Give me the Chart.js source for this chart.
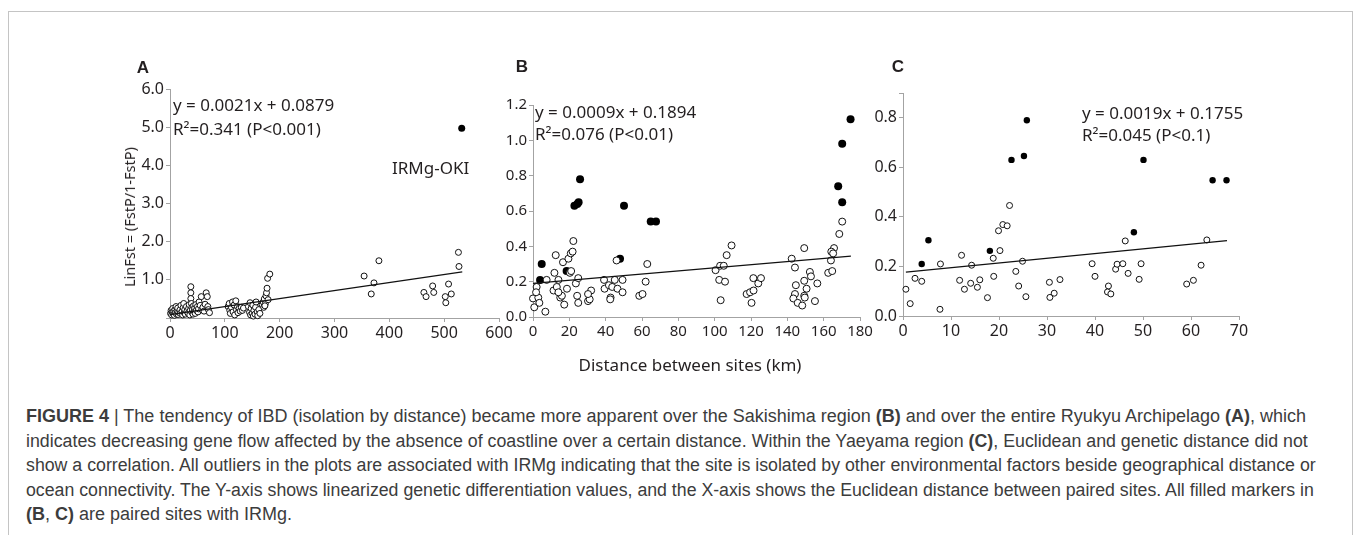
<!DOCTYPE html>
<html>
<head>
<meta charset="utf-8">
<script src="https://cdn.jsdelivr.net/npm/chart.js@4.4.1/dist/chart.umd.min.js"></script>
<style>
  body { margin: 0; background: #fff; width: 1355px; height: 535px; position: relative; overflow: hidden; font-family: "Noto Sans", sans-serif; color: #231f20; }
  .frame { position: absolute; left: 8px; top: 11px; width: 1343px; height: 540px; border: 1px solid #c4c4c4; border-bottom: none; }
  .box { position: absolute; top: 40px; }
  .txt { position: absolute; white-space: nowrap; font-size: 17px; line-height: 20px; }
  .panel { position: absolute; font-family: "Liberation Sans", Arial, sans-serif; font-weight: bold; font-size: 17px; transform: translate(-50%, -50%); }
  .ytitle { position: absolute; left: 129px; top: 217px; font-size: 14.5px; white-space: nowrap; transform: translate(-50%, -50%) rotate(-90deg); }
  .xtitle { position: absolute; left: 690px; top: 364px; font-size: 17px; white-space: nowrap; transform: translate(-50%, -50%); }
  .cap { position: absolute; left: 26px; white-space: nowrap; font-family: "Liberation Sans", Arial, sans-serif; font-size: 18px; line-height: 24px; color: #3c3c3c; transform-origin: 0 0; }
</style>
</head>
<body>
<div class="frame"></div>

<div class="box" style="left:100px"><canvas id="chartA" width="420" height="305"></canvas></div>
<div class="box" style="left:480px"><canvas id="chartB" width="400" height="305"></canvas></div>
<div class="box" style="left:850px"><canvas id="chartC" width="420" height="305"></canvas></div>

<div class="panel" style="left:143px;top:68px">A</div>
<div class="panel" style="left:522px;top:67px">B</div>
<div class="panel" style="left:898px;top:67px">C</div>

<div class="ytitle">LinFst = (FstP/1-FstP)</div>
<div class="xtitle">Distance between sites (km)</div>

<div class="txt" style="left:173px;top:95px">y = 0.0021x + 0.0879</div>
<div class="txt" style="left:173px;top:119px">R²=0.341 (P&lt;0.001)</div>
<div class="txt" style="left:392px;top:158px">IRMg-OKI</div>

<div class="txt" style="left:535px;top:102px">y = 0.0009x + 0.1894</div>
<div class="txt" style="left:535px;top:124px">R²=0.076 (P&lt;0.01)</div>

<div class="txt" style="left:1082px;top:103px">y = 0.0019x + 0.1755</div>
<div class="txt" style="left:1082px;top:125px">R²=0.045 (P&lt;0.1)</div>

<div class="cap" data-end="1306" style="top:404px"><b>FIGURE 4</b> | The tendency of IBD (isolation by distance) became more apparent over the Sakishima region <b>(B)</b> and over the entire Ryukyu Archipelago <b>(A)</b>, which</div>
<div class="cap" data-end="1308" style="top:429px">indicates decreasing gene flow affected by the absence of coastline over a certain distance. Within the Yaeyama region <b>(C)</b>, Euclidean and genetic distance did not</div>
<div class="cap" data-end="1316" style="top:453px">show a correlation. All outliers in the plots are associated with IRMg indicating that the site is isolated by other environmental factors beside geographical distance or</div>
<div class="cap" data-end="1314" style="top:478px">ocean connectivity. The Y-axis shows linearized genetic differentiation values, and the X-axis shows the Euclidean distance between paired sites. All filled markers in</div>
<div class="cap" style="top:502px"><b>(B</b>, <b>C)</b> are paired sites with IRMg.</div>

<script>
// A: entire Ryukyu Archipelago
let aOpenX = [1,2,3,4,5,6,7,8,9,10,11,12,13,14,15,16,18,19,20,22,23,24,25,26,27,28,30,31,33,34,35,36,37,38,38,38,39,40,40,41,42,43,44,45,46,47,48,50,51,52,53,55,57,58,60,62,64,66,68,69,70,72,
  106,108,109,110,112,114,115,117,118,120,121,123,124,126,128,130,132,134,
  143,145,146,147,148,150,151,152,153,155,156,157,159,160,162,164,
  168,170,171,172,174,175,176,177,178,182,179,173,
  354,381,372,367,463,467,479,481,508,502,503,513,526,527];
let aOpenY = [0.12,0.2,0.08,0.16,0.25,0.11,0.18,0.07,0.22,0.14,0.3,0.1,0.19,0.26,0.09,0.15,0.21,0.12,0.33,0.17,0.08,0.27,0.38,0.14,0.22,0.1,0.3,0.18,0.12,0.25,0.35,0.08,0.2,0.82,0.66,0.51,0.38,0.28,0.15,0.22,0.1,0.32,0.18,0.26,0.12,0.35,0.2,0.3,0.16,0.24,0.42,0.33,0.56,0.22,0.28,0.18,0.36,0.66,0.56,0.3,0.22,0.14,
  0.3,0.38,0.2,0.12,0.28,0.42,0.16,0.34,0.08,0.45,0.22,0.3,0.14,0.25,0.18,0.28,0.2,0.26,
  0.3,0.15,0.4,0.08,0.25,0.12,0.34,0.05,0.2,0.1,0.28,0.42,0.16,0.06,0.22,0.12,
  0.35,0.42,0.28,0.5,0.38,0.58,0.66,0.78,1.04,1.15,0.48,0.32,
  1.1,1.5,0.92,0.63,0.67,0.56,0.84,0.67,0.89,0.56,0.4,0.63,1.72,1.35];
let aFillX = [532];
let aFillY = [4.97];
let aFitX = [0, 533];
let aFitY = [0.09, 1.21];

// B: Sakishima region
let bOpenX = [0,0.7,2,2.9,3.5,1.7,7.5,6.8,12.5,11.8,11.3,13.1,14,15,15.9,14,16.5,17.2,18.7,19.5,20.8,21.8,22.2,23.6,24.9,24.3,24.9,20.3,21,30.3,31.2,32,30.3,39.1,39.4,41.8,42.7,42.5,45,46,43.6,46.5,49.3,49.3,58.5,60.3,62.9,62,
  100.5,103,105,106.6,109.3,102.5,105.7,103.3,117.6,119.5,121.4,120.3,121.3,124,125.5,142.4,144.2,149.3,144.7,144.2,143.3,145.7,148.2,149.3,149.3,150.6,149.6,152.4,153,155.2,156.5,
  170.2,168.6,165.7,164.2,165.2,164,162.5,164.7];
let bOpenY = [0.105,0.055,0.17,0.11,0.08,0.14,0.21,0.03,0.35,0.25,0.15,0.17,0.21,0.11,0.12,0.14,0.31,0.07,0.16,0.33,0.36,0.37,0.43,0.19,0.22,0.12,0.08,0.25,0.26,0.09,0.1,0.15,0.13,0.21,0.16,0.18,0.11,0.1,0.21,0.32,0.17,0.16,0.21,0.14,0.12,0.13,0.3,0.2,
  0.265,0.29,0.29,0.35,0.405,0.21,0.2,0.095,0.13,0.14,0.15,0.08,0.22,0.19,0.22,0.33,0.28,0.39,0.18,0.13,0.105,0.08,0.065,0.12,0.205,0.16,0.11,0.255,0.23,0.09,0.19,
  0.54,0.47,0.39,0.37,0.36,0.32,0.25,0.26];
let bFillX = [4.8,3.9,18.5,22.8,24.4,25.1,25.9,47.9,50.1,64.8,67.7,174.8,170.2,168,170.2];
let bFillY = [0.3,0.21,0.26,0.63,0.64,0.65,0.78,0.33,0.63,0.54,0.54,1.12,0.98,0.74,0.65];
let bFitX = [0, 175];
let bFitY = [0.19, 0.345];

// C: Yaeyama region
let cOpenX = [0.6,1.5,2.5,3.9,7.7,7.8,11.8,12.2,12.8,14.1,14.3,15.5,16,17.6,18.8,18.9,19.9,20.2,20.8,21.7,22.2,23.5,24.1,24.9,25.6,30.5,30.6,31.5,32.7,39.4,40,42.8,42.6,43.3,44.3,44.6,45.8,46.9,49.2,49.6,46.3,59.1,60.5,62.1,63.3];
let cOpenY = [0.108,0.05,0.152,0.14,0.027,0.21,0.144,0.245,0.108,0.132,0.205,0.116,0.146,0.074,0.233,0.16,0.344,0.264,0.369,0.364,0.446,0.18,0.121,0.221,0.078,0.136,0.075,0.092,0.147,0.211,0.16,0.121,0.097,0.089,0.189,0.209,0.211,0.172,0.148,0.211,0.303,0.129,0.144,0.205,0.307];
let cFillX = [3.9,5.3,18.1,22.6,25.2,25.8,48.1,50.1,64.5,67.4];
let cFillY = [0.21,0.306,0.263,0.63,0.646,0.79,0.338,0.63,0.548,0.548];
let cFitX = [0.6, 67.5];
let cFitY = [0.177, 0.304];

let axisColor = '#a3a3a3';
let labelColor = '#231f20';

function pts(xs, ys) {
    return xs.map((x, i) => ({x: x, y: ys[i]}));
}

function makeChart(id, d) {
    let ctx = document.getElementById(id).getContext('2d');
    return new Chart(ctx, {
        type: 'scatter',
        data: {
            datasets: [{
                data: pts(d.fitX, d.fitY),
                showLine: true,
                borderColor: '#111',
                borderWidth: 1.2,
                pointRadius: 0,
                clip: false
            },
            {
                data: pts(d.openX, d.openY),
                pointRadius: d.r,
                pointBackgroundColor: '#fff',
                pointBorderColor: '#111',
                pointBorderWidth: 1,
                clip: false
            },
            {
                data: pts(d.fillX, d.fillY),
                pointRadius: d.rf,
                pointBackgroundColor: '#000',
                pointBorderColor: '#000',
                pointBorderWidth: 0,
                clip: false
            }]
        },
        options: {
            responsive: false,
            animation: false,
            events: [],
            layout: { padding: { top: d.padTop, right: d.padRight, left: 0, bottom: 0 } },
            plugins: { legend: { display: false }, tooltip: { enabled: false } },
            scales: {
                x: {
                    type: 'linear',
                    min: d.xMin, max: d.xMax,
                    grid: { drawOnChartArea: false, tickLength: 4, color: axisColor },
                    border: { color: axisColor },
                    ticks: { stepSize: d.xStep, autoSkip: false, maxRotation: 0, padding: 2, color: labelColor, font: { family: 'Noto Sans', size: d.fs } },
                    afterFit: (s) => { s.height = d.xh; }
                },
                y: {
                    type: 'linear',
                    min: d.yMin, max: d.yMax,
                    grid: { drawOnChartArea: false, tickLength: 4, color: axisColor },
                    border: { color: axisColor },
                    ticks: {
                        stepSize: d.yStep, autoSkip: false, padding: 2, color: labelColor, font: { family: 'Noto Sans', size: d.fs },
                        callback: (v) => d.hide.some(h => Math.abs(h - v) < 1e-6) ? '' : v.toFixed(1)
                    },
                    afterFit: (s) => { s.width = d.yw; }
                }
            }
        }
    });
}

makeChart('chartA', {
    openX: aOpenX, openY: aOpenY, fillX: aFillX, fillY: aFillY, fitX: aFitX, fitY: aFitY,
    r: 3, rf: 3.5, xMin: 0, xMax: 600, xStep: 100, yMin: 0, yMax: 6, yStep: 1, hide: [0],
    padTop: 49, padRight: 21, yw: 70, xh: 27, fs: 16
});
makeChart('chartB', {
    openX: bOpenX, openY: bOpenY, fillX: bFillX, fillY: bFillY, fitX: bFitX, fitY: bFitY,
    r: 3.5, rf: 4, xMin: 0, xMax: 180, xStep: 20, yMin: 0, yMax: 1.2, yStep: 0.2, hide: [],
    padTop: 65, padRight: 20, yw: 53, xh: 28, fs: 15
});
makeChart('chartC', {
    openX: cOpenX, openY: cOpenY, fillX: cFillX, fillY: cFillY, fitX: cFitX, fitY: cFitY,
    r: 3, rf: 3.2, xMin: 0, xMax: 70, xStep: 10, yMin: 0, yMax: 0.9, yStep: 0.2, hide: [0.9],
    padTop: 53, padRight: 31, yw: 53, xh: 29, fs: 16
});

// squeeze caption lines to the condensed width of the printed caption
let capScale = 1;
document.querySelectorAll('.cap').forEach((el, i) => {
    let end = el.dataset.end;
    if (end) {
        let s = (end - 26) / el.offsetWidth;
        if (i === 0) capScale = s;
        el.style.transform = 'scaleX(' + s + ')';
    } else {
        el.style.transform = 'scaleX(' + capScale + ')';
    }
});
</script>
</body>
</html>
